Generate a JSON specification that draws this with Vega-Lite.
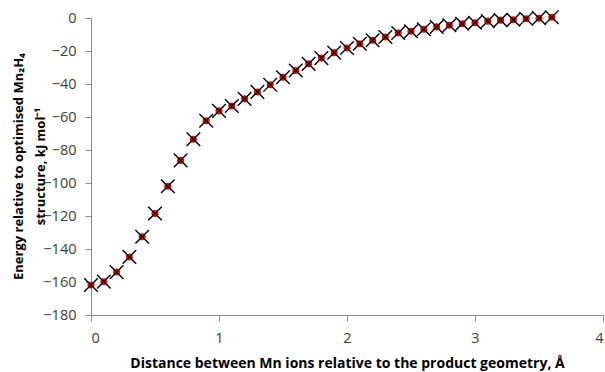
{
  "$schema": "https://vega.github.io/schema/vega-lite/v6.json",
  "autosize": {"type": "none"},
  "width": 512,
  "height": 297,
  "padding": {"left": 91, "top": 18, "right": 2, "bottom": 57},
  "background": "white",
  "data": {"values": [
    {"d": 0.0, "e": -161.8}, {"d": 0.1, "e": -159.8}, {"d": 0.2, "e": -154}, {"d": 0.3, "e": -144.8},
    {"d": 0.4, "e": -132.6}, {"d": 0.5, "e": -118.5}, {"d": 0.6, "e": -102}, {"d": 0.7, "e": -86.3},
    {"d": 0.8, "e": -73.5}, {"d": 0.9, "e": -62.3}, {"d": 1.0, "e": -56.3}, {"d": 1.1, "e": -53.3},
    {"d": 1.2, "e": -49}, {"d": 1.3, "e": -44.8}, {"d": 1.4, "e": -40.5}, {"d": 1.5, "e": -35.9},
    {"d": 1.6, "e": -31.8}, {"d": 1.7, "e": -27.8}, {"d": 1.8, "e": -24.3}, {"d": 1.9, "e": -21},
    {"d": 2.0, "e": -18.2}, {"d": 2.1, "e": -15.6}, {"d": 2.2, "e": -13.5}, {"d": 2.3, "e": -11.5},
    {"d": 2.4, "e": -9.1}, {"d": 2.5, "e": -8}, {"d": 2.6, "e": -6.8}, {"d": 2.7, "e": -5.4},
    {"d": 2.8, "e": -4.4}, {"d": 2.9, "e": -3.5}, {"d": 3.0, "e": -2.9}, {"d": 3.1, "e": -1.9},
    {"d": 3.2, "e": -1.3}, {"d": 3.3, "e": -1.1}, {"d": 3.4, "e": -0.5}, {"d": 3.5, "e": -0.1},
    {"d": 3.6, "e": 0.5}
  ]},
  "encoding": {
    "x": {
      "field": "d", "type": "quantitative",
      "scale": {"domain": [0, 4], "nice": false, "zero": false},
      "axis": {
        "title": "Distance between Mn ions relative to the product geometry, Å",
        "values": [0, 1, 2, 3, 4], "grid": false,
        "domainColor": "#8c8c8c", "tickColor": "#8c8c8c", "tickSize": 6,
        "labelFont": "Open Sans", "labelFontSize": 14.5, "labelColor": "#404040", "labelPadding": 10,
        "titleFont": "Open Sans", "titleFontSize": 14, "titleFontWeight": "bold", "titleColor": "#000000",
        "titlePadding": 12
      }
    },
    "y": {
      "field": "e", "type": "quantitative",
      "scale": {"domain": [-180, 0], "nice": false, "zero": false},
      "axis": {
        "title": ["Energy relative to optimised Mn₂H₄", "structure, kJ mol⁻¹"],
        "values": [-180, -160, -140, -120, -100, -80, -60, -40, -20, 0], "grid": false,
        "domainColor": "#8c8c8c", "tickColor": "#8c8c8c", "tickSize": 6,
        "labelFont": "Open Sans", "labelFontSize": 14.5, "labelColor": "#404040", "labelPadding": 9,
        "titleFont": "Open Sans", "titleFontSize": 13, "titleFontWeight": "bold", "titleColor": "#000000",
        "titleAnchor": "middle", "titleBaseline": "top", "titleX": -79, "titleY": 148, "titleLineHeight": 22
      }
    }
  },
  "layer": [
    {"mark": {"type": "point", "shape": "circle", "filled": true, "color": "#ff0000", "size": 50, "opacity": 1}},
    {"mark": {"type": "point", "shape": "M-1,-1L1,1M-1,1L1,-1", "filled": false, "color": "#000000", "size": 185, "strokeWidth": 1.4, "opacity": 1}}
  ],
  "config": {"view": {"stroke": null}}
}
